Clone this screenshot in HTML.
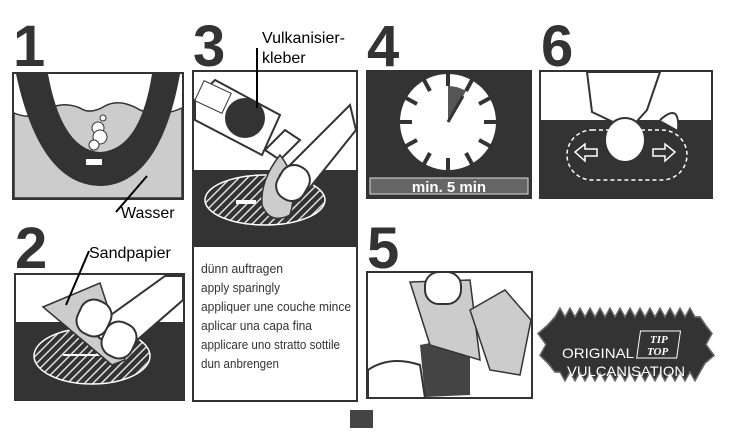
<!DOCTYPE html>
<html><head><meta charset="utf-8"><style>
html,body{margin:0;padding:0;background:#fff}
svg{display:block}
.n{font-family:"Liberation Sans",sans-serif;font-weight:bold;font-size:58px;fill:#333}
.l{font-family:"Liberation Sans",sans-serif;font-size:16px;fill:#000}
.t{font-family:"Liberation Sans",sans-serif;font-size:13px;fill:#333}
</style></head><body>
<svg width="736" height="435" viewBox="0 0 736 435" xmlns="http://www.w3.org/2000/svg">
<defs>
<pattern id="h" width="6" height="6" patternUnits="userSpaceOnUse" patternTransform="rotate(-45)">
<rect width="6" height="6" fill="#333"/><rect width="6" height="1.5" fill="#ddd"/></pattern>
</defs>
<text class="n" x="13" y="66">1</text>
<text class="n" x="193" y="66">3</text>
<text class="n" x="367" y="66">4</text>
<text class="n" x="541" y="66">6</text>
<text class="n" x="15" y="268">2</text>
<text class="n" x="367" y="268">5</text>

<!-- Panel 1 -->
<rect x="13" y="73" width="170" height="126" fill="#fff" stroke="#333" stroke-width="2"/>
<path d="M14 113 Q30 120 45 112 Q60 100 80 108 Q90 115 105 106 Q120 98 140 110 Q160 118 182 108 L182 198 L14 198Z" fill="#ccc" stroke="#333" stroke-width="1.5"/>
<path d="M16 74 Q40 185 100 186 Q160 185 180 74 L152 74 Q140 150 100 152 Q62 150 48 74Z" fill="#333"/>
<circle cx="98" cy="128" r="6" fill="#fff" stroke="#333"/>
<circle cx="100" cy="137" r="7" fill="#fff" stroke="#333"/>
<circle cx="94" cy="145" r="5" fill="#fff" stroke="#333"/>
<circle cx="103" cy="118" r="3" fill="#fff" stroke="#333"/>
<rect x="86" y="159" width="16" height="6" fill="#fff"/>
<line x1="147" y1="176" x2="116" y2="212" stroke="#000" stroke-width="2"/>
<text class="l" x="121" y="218">Wasser</text>

<!-- Panel 3 -->
<rect x="193" y="71" width="164" height="330" fill="#fff" stroke="#333" stroke-width="2"/>
<rect x="194" y="170" width="162" height="77" fill="#333"/>
<ellipse cx="265" cy="200" rx="60" ry="25" fill="url(#h)" stroke="#fff" stroke-width="1.5"/>
<rect x="236" y="200" width="20" height="4" fill="#fff"/>
<path d="M195 100 L215 80 L280 115 L262 155 L195 120Z" fill="#fff" stroke="#333" stroke-width="2"/>
<circle cx="245" cy="118" r="20" fill="#333"/>
<rect x="198" y="86" width="30" height="22" fill="#fff" stroke="#333" transform="rotate(25 213 97)"/>
<path d="M265 150 L280 160 L300 140 L285 130Z" fill="#fff" stroke="#333" stroke-width="2"/>
<path d="M280 155 Q300 180 290 215 Q270 225 262 205 Q260 180 280 155Z" fill="#ccc" stroke="#333" stroke-width="1.5"/>
<path d="M280 175 L350 105 L356 130 L300 200Z" fill="#fff" stroke="#333" stroke-width="2"/>
<rect x="278" y="165" width="30" height="36" rx="14" fill="#fff" stroke="#333" stroke-width="2" transform="rotate(30 293 183)"/>
<line x1="257" y1="48" x2="257" y2="108" stroke="#000" stroke-width="2"/>
<text class="l" x="262" y="43">Vulkanisier-</text>
<text class="l" x="262" y="63">kleber</text>
<text class="t" x="201" y="273" textLength="82" lengthAdjust="spacingAndGlyphs">dünn auftragen</text>
<text class="t" x="201" y="292" textLength="79" lengthAdjust="spacingAndGlyphs">apply sparingly</text>
<text class="t" x="201" y="311" textLength="150" lengthAdjust="spacingAndGlyphs">appliquer une couche mince</text>
<text class="t" x="201" y="330" textLength="111" lengthAdjust="spacingAndGlyphs">aplicar una capa fina</text>
<text class="t" x="201" y="349" textLength="139" lengthAdjust="spacingAndGlyphs">applicare uno stratto sottile</text>
<text class="t" x="201" y="368" textLength="78" lengthAdjust="spacingAndGlyphs">dun anbrengen</text>

<!-- Panel 4 -->
<rect x="367" y="71" width="164" height="127" fill="#333" stroke="#333" stroke-width="2"/>
<circle cx="448" cy="122" r="48" fill="#fff"/>
<path d="M448 122 L448 86 A36 36 0 0 1 466 91Z" fill="#555"/>
<g stroke="#333" stroke-width="4">
<line x1="448" y1="74" x2="448" y2="86"/><line x1="448" y1="158" x2="448" y2="170"/>
<line x1="400" y1="122" x2="412" y2="122"/><line x1="484" y1="122" x2="496" y2="122"/>
<line x1="472" y1="80" x2="466" y2="91"/><line x1="424" y1="80" x2="430" y2="91"/>
<line x1="472" y1="164" x2="466" y2="153"/><line x1="424" y1="164" x2="430" y2="153"/>
<line x1="406" y1="98" x2="417" y2="104"/><line x1="490" y1="98" x2="479" y2="104"/>
<line x1="406" y1="146" x2="417" y2="140"/><line x1="490" y1="146" x2="479" y2="140"/>
</g>
<line x1="448" y1="122" x2="463" y2="96" stroke="#333" stroke-width="3"/>
<rect x="370" y="178" width="158" height="16" fill="#666" stroke="#ddd"/>
<text x="449" y="192" text-anchor="middle" font-family="Liberation Sans,sans-serif" font-weight="bold" font-size="15" fill="#fff">min. 5 min</text>

<!-- Panel 6 -->
<rect x="540" y="71" width="172" height="127" fill="#333" stroke="#333" stroke-width="2"/>
<rect x="541" y="72" width="170" height="48" fill="#fff"/>
<path d="M587 72 L592 112 L613 122 L620 140 L647 110 L660 72Z" fill="#fff" stroke="#333" stroke-width="2"/>
<ellipse cx="625" cy="140" rx="20" ry="22" fill="#fff" stroke="#333" stroke-width="2"/>
<path d="M660 120 Q680 102 678 130" fill="#fff" stroke="#333" stroke-width="2"/>
<rect x="567" y="130" width="120" height="50" rx="25" fill="none" stroke="#fff" stroke-width="1.5" stroke-dasharray="4 3"/>
<g fill="none" stroke="#fff" stroke-width="1.5">
<path d="M575 152 L585 144 L585 149 L597 149 L597 156 L585 156 L585 161Z"/>
<path d="M675 152 L665 144 L665 149 L653 149 L653 156 L665 156 L665 161Z"/>
</g>

<!-- Panel 2 -->
<rect x="15" y="274" width="169" height="126" fill="#333" stroke="#333" stroke-width="2"/>
<rect x="16" y="275" width="167" height="47" fill="#fff"/>
<ellipse cx="92" cy="356" rx="58" ry="28" fill="url(#h)" stroke="#fff" stroke-width="1.5"/>
<line x1="63" y1="355" x2="130" y2="355" stroke="#fff" stroke-width="2"/>
<path d="M43 307 L100 283 L125 360 L112 365 Z" fill="#ccc" stroke="#333" stroke-width="1.5"/>
<path d="M90 330 L165 276 L183 276 L183 300 L120 355Z" fill="#fff" stroke="#333" stroke-width="2"/>
<rect x="78" y="300" width="32" height="36" rx="14" fill="#fff" stroke="#333" stroke-width="2" transform="rotate(25 94 318)"/>
<rect x="103" y="322" width="32" height="36" rx="14" fill="#fff" stroke="#333" stroke-width="2" transform="rotate(25 119 340)"/>
<line x1="89" y1="251" x2="66" y2="305" stroke="#000" stroke-width="2"/>
<text class="l" x="89" y="258">Sandpapier</text>

<!-- Panel 5 -->
<rect x="367" y="272" width="165" height="126" fill="#fff" stroke="#333" stroke-width="2"/>
<path d="M420 345 L470 335 L470 395 L425 397Z" fill="#444"/>
<path d="M410 282 L470 280 L480 360 L430 345Z" fill="#ccc" stroke="#333" stroke-width="1.5"/>
<path d="M470 310 L505 290 L531 320 L520 375 L490 370Z" fill="#ccc" stroke="#333" stroke-width="1.5"/>
<rect x="425" y="272" width="36" height="32" rx="14" fill="#fff" stroke="#333" stroke-width="2"/>
<path d="M368 370 Q390 355 420 365 L425 398 L368 398Z" fill="#fff" stroke="#333" stroke-width="2"/>

<!-- Badge -->
<g transform="translate(0 -35) scale(1 1.1)">
<polygon fill="#333" stroke="#666" stroke-width="1.5" points="547,328 555,320 560,312 565,320 570,312 575,320 580,312 585,320 590,312 595,320 600,312 605,320 610,312 615,320 620,312 625,320 630,312 635,320 640,312 645,320 650,312 655,320 660,312 665,320 670,312 675,320 680,312 685,320 690,312 695,320 700,320 706,328 712,335 706,345 714,355 705,362 700,370 695,378 690,370 685,378 680,370 675,378 670,370 665,378 660,370 655,378 650,370 645,378 640,370 635,378 630,370 625,378 620,370 615,378 610,370 605,378 600,370 595,378 590,370 585,378 580,370 575,378 570,370 565,378 560,370 555,370 548,362 540,355 546,345 538,335"/>
</g>
<text x="562" y="358" textLength="72" lengthAdjust="spacingAndGlyphs" font-family="Liberation Sans,sans-serif" font-size="14" fill="#fff">ORIGINAL</text>
<rect x="640" y="331" width="40" height="27" fill="#333" stroke="#fff" transform="skewX(-8) translate(47 0)"/>
<text x="650" y="343" font-family="Liberation Serif,serif" font-weight="bold" font-style="italic" font-size="11" fill="#fff">TIP</text>
<text x="647" y="355" font-family="Liberation Serif,serif" font-weight="bold" font-style="italic" font-size="11" fill="#fff">TOP</text>
<text x="567" y="376" textLength="118" lengthAdjust="spacingAndGlyphs" font-family="Liberation Sans,sans-serif" font-size="14" fill="#fff">VULCANISATION</text>

<rect x="350" y="410" width="23" height="18" fill="#444"/>
</svg>
</body></html>
